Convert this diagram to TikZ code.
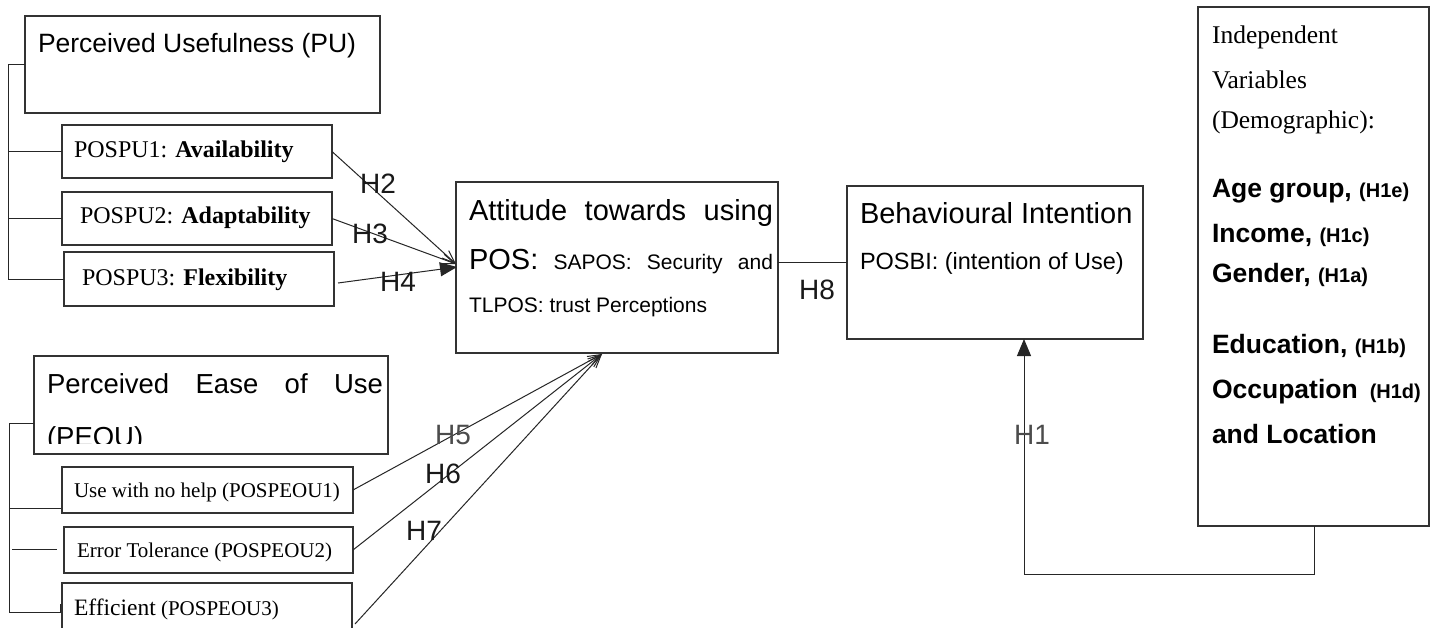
\documentclass[tikz,border=0pt]{standalone}
\usepackage{fontspec}
\setmainfont{Liberation Serif}
\newfontfamily\arial{Liberation Sans}
\usetikzlibrary{arrows.meta}
\newcommand\myfs[1]{\fontsize{#1}{#1}\selectfont}
\begin{document}
\begin{tikzpicture}[x=1pt, y={(0pt,-1pt)},
  box/.style={draw=black!80, line width=1.2pt, inner sep=0pt, outer sep=0pt, anchor=north west},
  txt/.style={anchor=base west, inner sep=0pt, outer sep=0pt},
  hl/.style={font=\arial\myfs{28}, inner sep=0pt, text=black!90},
  ln/.style={draw=black!85, line width=1pt},
  oarr/.style={ln, -{Straight Barb[length=13pt,width=10pt,line width=1pt]}},
  farr/.style={ln, -{Triangle[length=17pt,width=14pt]}}]
\clip (0,0) rectangle (1438,627);
\fill[white] (0,0) rectangle (1438,627);
% boxes
\node[box, minimum width=355pt, minimum height=97pt] (pu) at (25,16) {};
\node[box, minimum width=270pt, minimum height=53pt] (pu1) at (62,125) {};
\node[box, minimum width=270pt, minimum height=53pt] (pu2) at (62,192) {};
\node[box, minimum width=270pt, minimum height=54pt] (pu3) at (64,252) {};
\node[box, minimum width=354pt, minimum height=98pt] (peou) at (34,356) {};
\node[box, minimum width=291pt, minimum height=46pt] (pe1) at (62,467) {};
\node[box, minimum width=289pt, minimum height=46pt] (pe2) at (64,527) {};
\node[box, minimum width=290pt, minimum height=70pt] (pe3) at (62,583) {};
\node[box, minimum width=322pt, minimum height=171pt] (att) at (456,182) {};
\node[box, minimum width=296pt, minimum height=153pt] (bi) at (847,186) {};
\node[box, minimum width=231pt, minimum height=519pt] (iv) at (1198,7) {};
% texts
\node[txt, font=\arial\myfs{26.5}] (tpu) at (38,52) {Perceived Usefulness (PU)};
\node[txt, font=\myfs{24}] (tpu1) at (74,157) {POSPU1: \textbf{Availability}};
\node[txt, font=\myfs{24}] (tpu2) at (80,223) {POSPU2: \textbf{Adaptability}};
\node[txt, font=\myfs{24}] (tpu3) at (82,285) {POSPU3: \textbf{Flexibility}};
\node[txt, font=\arial\myfs{27.5}] (tpeoua) at (47,393) {\makebox[336pt][s]{Perceived Ease of Use}};
\begin{scope}
\clip (34,415) rectangle (388,443);
\node[txt, font=\arial\myfs{27.5}] (tpeoub) at (47,446) {(PEOU)};
\end{scope}
\node[txt, font=\myfs{21}] (tpe1) at (74,497) {Use with no help (POSPEOU1)};
\node[txt, font=\myfs{21}] (tpe2) at (77,557) {Error Tolerance (POSPEOU2)};
\node[txt, font=\myfs{21}] (tpe3) at (74,615) {{\myfs{23.5}Efficient} (POSPEOU3)};
\node[txt, font=\arial\myfs{29}] (tatta) at (469,220) {\makebox[304pt][s]{Attitude towards using}};
\node[txt, font=\arial\myfs{21}] (tattb) at (469,269) {\makebox[304pt][s]{{\myfs{29}POS:} SAPOS: Security and}};
\node[txt, font=\arial\myfs{21}] (tattc) at (469,312) {TLPOS: trust Perceptions};
\node[txt, font=\arial\myfs{29}] (tbia) at (860,223) {Behavioural Intention};
\node[txt, font=\arial\myfs{23.5}] (tbib) at (860,269) {POSBI: (intention of Use)};
\node[txt, font=\myfs{25.5}] (tiv1) at (1212,43) {Independent};
\node[txt, font=\myfs{25.5}] (tiv2) at (1212,88) {Variables};
\node[txt, font=\myfs{25.5}] (tiv3) at (1212,128) {(Demographic):};
\node[txt, font=\arial\bfseries\myfs{26.5}] (tiv4) at (1212,197) {Age group, {\myfs{20}(H1e)}};
\node[txt, font=\arial\bfseries\myfs{26.5}] (tiv5) at (1212,242) {Income, {\myfs{20}(H1c)}};
\node[txt, font=\arial\bfseries\myfs{26.5}] (tiv6) at (1212,282) {Gender, {\myfs{20}(H1a)}};
\node[txt, font=\arial\bfseries\myfs{26.5}] (tiv7) at (1212,353) {Education, {\myfs{20}(H1b)}};
\node[txt, font=\arial\bfseries\myfs{26.5}] (tiv8) at (1212,398) {Occupation\hspace{12pt}{\myfs{20}(H1d)}};
\node[txt, font=\arial\bfseries\myfs{26.5}] (tiv9) at (1212,443) {and Location};
% brackets
\draw[ln] (pu.west) -| (8,279) -- (pu3.west);
\draw[ln] (8,151.5) -- (pu1.west);
\draw[ln] (8,218.5) -- (pu2.west);
\coordinate (peL) at (34,423);
\draw[ln] (peL) -- (9,423) -- (9,612) -- (60,612) -- (60,604);
\draw[ln] (9,508) -- (61,508);
\draw[ln] (12,549) -- (57,549);
% arrows
\coordinate (attL) at (456,264);
\coordinate (attL4) at (457,267);
\coordinate (attB) at (602,354);
\coordinate (pu3o) at (338,283);
\coordinate (pe3o) at (355,624);
\draw[oarr] (pu1.east) -- (attL);
\draw[oarr] (pu2.east) -- (attL);
\draw[farr] (pu3o) -- (attL4);
\draw[oarr] (pe1.east) -- (attB);
\draw[oarr] (pe2.east) -- (attB);
\draw[oarr] (pe3o) -- (attB);
\coordinate (attR) at (778,262);
\coordinate (biL) at (847,262);
\draw[ln] (attR) -- (biL);
\coordinate (ivout) at (1314,526);
\coordinate (biin) at (1024,339);
\draw[farr] (ivout) -- (1314,574) -| (biin);
% labels
\node[hl] (h2) at (378,184) {H2};
\node[hl] (h3) at (370,234) {H3};
\node[hl] (h4) at (398,282) {H4};
\node[hl, text=black!70] (h5) at (453,435) {H5};
\node[hl] (h6) at (443,474) {H6};
\node[hl] (h7) at (424,531) {H7};
\node[hl] (h8) at (817,290) {H8};
\node[hl, text=black!70] (h1) at (1032,435) {H1};
\end{tikzpicture}
\end{document}
